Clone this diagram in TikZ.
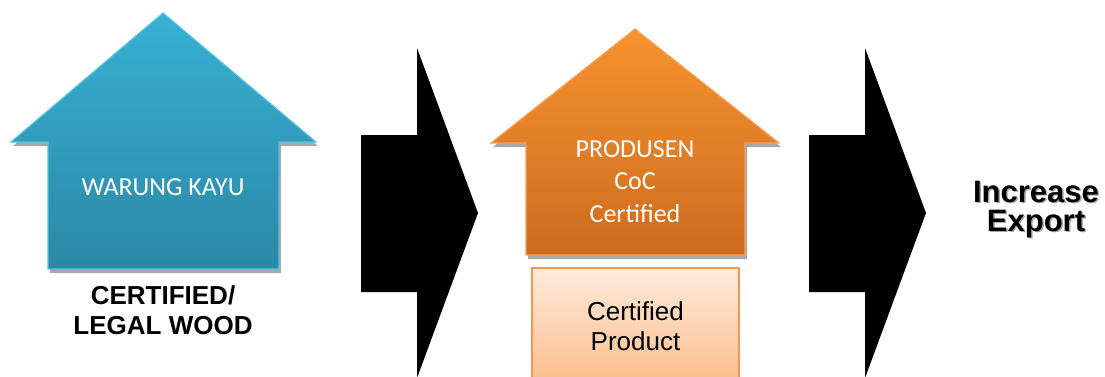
\documentclass[tikz,border=0pt]{standalone}
\usepackage{fontspec}
\setmainfont{Liberation Sans}
\newfontfamily\calib{Carlito}
\definecolor{bluetop}{HTML}{38B0D4}
\definecolor{bluebot}{HTML}{2A89A5}
\definecolor{blueline}{HTML}{55C3E3}
\definecolor{orangetop}{HTML}{F79230}
\definecolor{orangebot}{HTML}{CD6C1F}
\definecolor{orangeline}{HTML}{F9A055}
\definecolor{peachtop}{HTML}{FEEADC}
\definecolor{peachbot}{HTML}{FCBF8D}
\definecolor{peachline}{HTML}{F7964A}
\definecolor{shadowgray}{HTML}{A8A8A8}
\begin{document}
\begin{tikzpicture}[x=1pt,y=-1pt,
  whitetext/.style={text=white,font=\calib\fontsize{26}{31}\selectfont,anchor=base,inner sep=0pt},
  blacktext/.style={text=black,font=\fontsize{26}{30}\selectfont,anchor=base,inner sep=0pt},
  boldtext/.style={text=black,font=\bfseries\fontsize{26}{30}\selectfont,anchor=base,inner sep=0pt},
  bigbold/.style={font=\bfseries\fontsize{31}{29}\selectfont,anchor=base,inner sep=0pt},
  shadowpoly/.style={fill=shadowgray,draw=none},
  bigarrow/.style={fill=black,draw=none}]
\useasboundingbox (0,0) rectangle (1105,376);
\clip (0,0) rectangle (1105,376);

% blue house
\fill[shadowgray] (165,17) -- (318,146) -- (281,146) -- (281,273) -- (50,273) -- (50,146) -- (13,146) -- cycle;
\shade[top color=bluetop,bottom color=bluebot,draw=blueline,line width=1.2pt]
  (163,13) -- (316,142) -- (279,142) -- (279,269) -- (48,269) -- (48,142) -- (11,142) -- cycle;
\node[whitetext] (wk) at (163,195) {WARUNG KAYU};
\node[boldtext] (cl1) at (163,304) {CERTIFIED/};
\node[boldtext] (cl2) at (163,334) {LEGAL WOOD};

% first arrow
\fill[bigarrow] (361,135) -- (417,135) -- (417,48) -- (478,213) -- (417,378) -- (417,292) -- (361,292) -- cycle;

% orange house
\fill[shadowgray] (637,33) -- (781,147) -- (747,147) -- (747,259) -- (528,259) -- (528,147) -- (493,147) -- cycle;
\shade[top color=orangetop,bottom color=orangebot,draw=orangeline,line width=1.2pt]
  (635,29) -- (779,143) -- (745,143) -- (745,255) -- (526,255) -- (526,143) -- (491,143) -- cycle;
\node[whitetext] (p1) at (635,157.3) {PRODUSEN};
\node[whitetext] (p2) at (635,189.8) {CoC};
\node[whitetext] (p3) at (635,222) {Certified};

% certified product box
\shade[top color=peachtop,bottom color=peachbot,draw=peachline,line width=1.2pt]
  (532,268) rectangle (739,382);
\node[blacktext] (cp1) at (635.5,320) {Certified};
\node[blacktext] (cp2) at (635.5,350) {Product};

% second arrow
\fill[bigarrow] (809,135) -- (865,135) -- (865,48) -- (926,213) -- (865,378) -- (865,292) -- (809,292) -- cycle;

% increase export
\node[bigbold,text=black!35] (ie1s) at (1037.5,203.5) {Increase};
\node[bigbold,text=black!35] (ie2s) at (1037.5,232.5) {Export};
\node[bigbold,text=black] (ie1) at (1036,202) {Increase};
\node[bigbold,text=black] (ie2) at (1036,231) {Export};
\end{tikzpicture}
\end{document}
